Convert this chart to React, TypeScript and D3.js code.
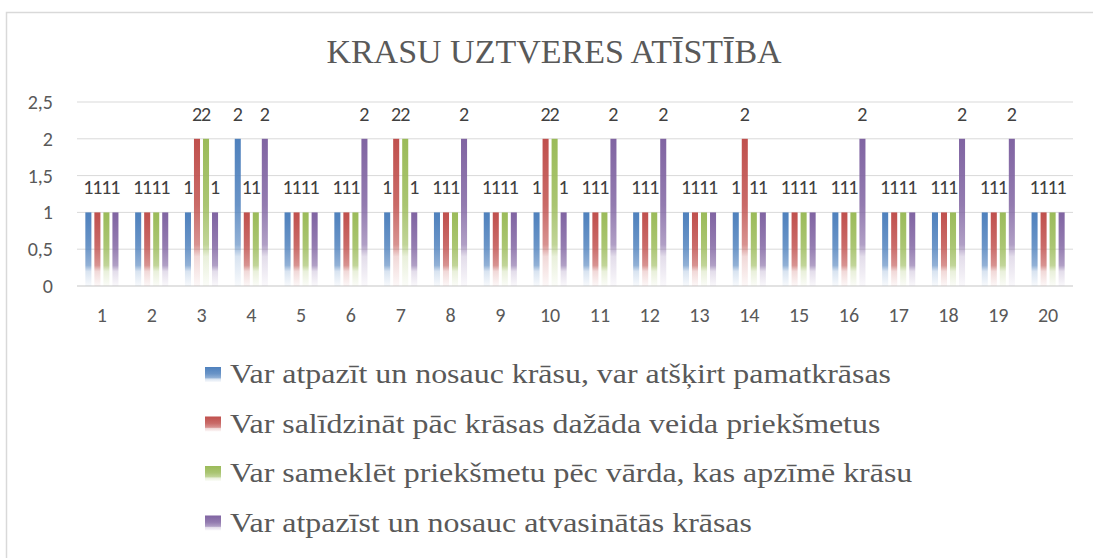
import * as d3 from 'd3'

const categories = ['1', '2', '3', '4', '5', '6', '7', '8', '9', '10', '11', '12', '13', '14', '15', '16', '17', '18', '19', '20']

const seriesNames = [
  'Var atpazīt un nosauc krāsu, var atšķirt pamatkrāsas',
  'Var salīdzināt pāc krāsas dažāda veida priekšmetus',
  'Var sameklēt priekšmetu pēc vārda, kas apzīmē krāsu',
  'Var atpazīst un nosauc atvasinātās krāsas',
]

const blueValues = [1, 1, 1, 2, 1, 1, 1, 1, 1, 1, 1, 1, 1, 1, 1, 1, 1, 1, 1, 1]
const redValues = [1, 1, 2, 1, 1, 1, 2, 1, 1, 2, 1, 1, 1, 2, 1, 1, 1, 1, 1, 1]
const greenValues = [1, 1, 2, 1, 1, 1, 2, 1, 1, 2, 1, 1, 1, 1, 1, 1, 1, 1, 1, 1]
const purpleValues = [1, 1, 1, 2, 1, 2, 1, 2, 1, 1, 2, 2, 1, 1, 1, 2, 1, 2, 2, 1]

const yTicks = [0, 0.5, 1, 1.5, 2, 2.5]
const colors = ['#4f81bd', '#c0504d', '#9bbb59', '#8064a2']

const SERIF = 'Liberation Serif'
const SANS = 'Carlito'

const width = 1093
const height = 558
const margin = { top: 102, bottom: 272, left: 77, right: 20 }
const innerW = width - margin.left - margin.right
const innerH = height - margin.top - margin.bottom

const gradStops: [number, number][] = [[0, 1], [0.45, 0.85], [0.72, 0.62], [0.8, 0.22], [1, 0.04]]

export default function App() {
  const allSeries = [blueValues, redValues, greenValues, purpleValues]

  const x0 = d3.scaleBand<string>().domain(categories).range([0, innerW]).paddingInner(0.335).paddingOuter(0.1675)
  const x1 = d3.scaleBand<number>().domain([0, 1, 2, 3]).range([0, x0.bandwidth()]).paddingInner(0.33)
  const y = d3.scaleLinear().domain([0, 2.5]).range([innerH, 0])

  return (
    <svg width={width} height={height} style={{ position: 'absolute', left: 0, top: 0, background: '#fff', fontFamily: SANS }}>
      <defs>
        {colors.map((c, i) => (
          <linearGradient key={i} id={`grad${i}`} x1={0} y1={0} x2={0} y2={1}>
            {gradStops.map(([o, a]) => (
              <stop key={o} offset={o} stopColor={c} stopOpacity={a} />
            ))}
          </linearGradient>
        ))}
      </defs>

      {/* frame */}
      <rect x={6.5} y={12.5} width={width + 20} height={height + 20} fill="#fff" stroke="#d9d9d9" strokeWidth={1.5} />

      <text x={554} y={63} textAnchor="middle" fill="#595959" style={{ fontFamily: SERIF, fontSize: 34 }}>
        KRASU UZTVERES ATĪSTĪBA
      </text>

      <g transform={`translate(${margin.left},${margin.top})`} fontSize={20} fill="#595959">
        {yTicks.map(t => (
          <g key={t}>
            <line x1={0} x2={innerW} y1={y(t)} y2={y(t)} stroke="#d9d9d9" strokeWidth={t === 0 ? 1.5 : 1} />
            <text x={-24} y={y(t)} dy="0.35em" textAnchor="end">
              {String(t).replace('.', ',')}
            </text>
          </g>
        ))}

        {categories.map((cat, ci) => {
          const gx = x0(cat) || 0
          return (
            <g key={cat}>
              {allSeries.map((vals, si) => {
                const v = vals[ci]
                return (
                  <rect key={si} x={gx + (x1(si) || 0)} y={y(v)} width={x1.bandwidth()} height={y(0) - y(v)} fill={`url(#grad${si})`} />
                )
              })}
              <text x={gx + x0.bandwidth() / 2} y={innerH + 36} textAnchor="middle">
                {cat}
              </text>
            </g>
          )
        })}

        {/* data labels */}
        {categories.map((cat, ci) => {
          const gx = x0(cat) || 0
          return allSeries.map((vals, si) => {
            const v = vals[ci]
            return (
              <text key={`${cat}-${si}`} x={gx + (x1(si) || 0) + x1.bandwidth() / 2} y={y(v) - 18} textAnchor="middle" fill="#404040">
                {v}
              </text>
            )
          })
        })}
      </g>

      {/* legend */}
      {seriesNames.map((name, i) => {
        const base = 383 + i * 49.5
        return (
          <g key={name}>
            <rect x={205} y={base - 16} width={16} height={15} fill={`url(#grad${i})`} />
            <text transform={`translate(230,${base}) scale(1.14,1)`} fill="#595959" style={{ fontFamily: SERIF, fontSize: 28 }}>
              {name}
            </text>
          </g>
        )
      })}
    </svg>
  )
}
